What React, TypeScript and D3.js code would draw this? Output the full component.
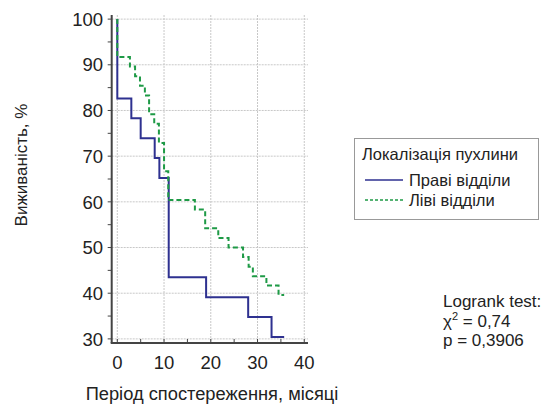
import React, { useEffect, useRef } from 'react';
import * as d3 from 'd3';

// Праві відділи: момент зміни (міс.) та виживаність після неї (%)
const rightTimes = [0, 0, 3, 5, 8, 9, 11, 19, 28, 33, 35.7];
const rightSurv = [100, 82.6, 78.3, 73.9, 69.6, 65.2, 43.5, 39.1, 34.8, 30.4, 30.4];

// Ліві відділи
const leftTimes = [0, 0, 2.7, 3.8, 4.85, 5.9, 6.8, 7.9, 8.9, 10, 10.9, 16.6, 18.8, 21.6, 23.8, 26.9, 28.1, 29, 31.9, 34.5, 35.7];
const leftSurv = [100, 91.7, 89.6, 87.5, 85.4, 83.3, 79.2, 77.1, 72.9, 66.7, 60.4, 58.3, 54.2, 52.1, 50.0, 47.9, 45.8, 43.7, 41.7, 39.6, 39.6];

const xTicks = [0, 10, 20, 30, 40];
const yTicks = [30, 40, 50, 60, 70, 80, 90, 100];
const xMinor = [5, 15, 25, 35];
const yMinor = [35, 45, 55, 65, 75, 85, 95];

const legendTitle = 'Локалізація пухлини';
const seriesNames = ['Праві відділи', 'Ліві відділи'];

const BLUE = '#2e3190';
const GREEN = '#1e9a46';
const FONT = '"Liberation Sans", Arial, sans-serif';

export default function App() {
  const svgRef = useRef<SVGSVGElement>(null);

  useEffect(() => {
    document.body.style.margin = '0';
    const svg = d3.select(svgRef.current);
    svg.selectAll('*').remove();

    const x = d3.scaleLinear().domain([-1.2, 40.8]).range([111.7, 308]);
    const y = d3.scaleLinear().domain([29.1, 100.9]).range([343, 15]);

    const g = svg.append('g').attr('font-family', FONT);

    // сітка
    g.selectAll('.hgrid').data(yTicks).enter().append('line')
      .attr('x1', x(-1.2)).attr('x2', x(40.8))
      .attr('y1', d => y(d)).attr('y2', d => y(d))
      .attr('stroke', '#c8c8c8').attr('stroke-dasharray', '2,1');
    g.selectAll('.vgrid').data(xTicks).enter().append('line')
      .attr('x1', d => x(d)).attr('x2', d => x(d))
      .attr('y1', y(100.9)).attr('y2', y(29.1))
      .attr('stroke', '#c8c8c8').attr('stroke-dasharray', '2,1');

    // осі
    g.append('line').attr('x1', x(-1.2)).attr('x2', x(-1.2)).attr('y1', y(100.9)).attr('y2', y(29.1))
      .attr('stroke', '#444').attr('stroke-width', 2);
    g.append('line').attr('x1', x(-1.2) - 1).attr('x2', x(40.8)).attr('y1', y(29.1)).attr('y2', y(29.1))
      .attr('stroke', '#444').attr('stroke-width', 2);

    // поділки
    g.selectAll('.yt').data([...yTicks, ...yMinor]).enter().append('line')
      .attr('x1', x(-1.2) - 4).attr('x2', x(-1.2))
      .attr('y1', d => y(d)).attr('y2', d => y(d))
      .attr('stroke', '#444');
    g.selectAll('.xt').data([...xTicks, ...xMinor]).enter().append('line')
      .attr('x1', d => x(d)).attr('x2', d => x(d))
      .attr('y1', y(29.1)).attr('y2', y(29.1) - 4)
      .attr('stroke', '#444');

    g.selectAll('.yl').data(yTicks).enter().append('text')
      .attr('x', 103).attr('y', d => y(d)).attr('dy', '0.36em')
      .attr('text-anchor', 'end').attr('font-size', 18.5).attr('fill', '#222')
      .text(d => d);
    g.selectAll('.xl').data(xTicks).enter().append('text')
      .attr('x', d => x(d)).attr('y', 369)
      .attr('text-anchor', 'middle').attr('font-size', 18.5).attr('fill', '#222')
      .text(d => d);

    // криві
    const line = d3.line<[number, number]>()
      .x(d => x(d[0])).y(d => y(d[1]))
      .curve(d3.curveStepAfter);
    const rightPts = rightTimes.map((t, i) => [t, rightSurv[i]] as [number, number]);
    const leftPts = leftTimes.map((t, i) => [t, leftSurv[i]] as [number, number]);

    g.append('path').attr('d', line(rightPts)).attr('fill', 'none')
      .attr('stroke', BLUE).attr('stroke-width', 2);
    g.append('path').attr('d', line(leftPts)).attr('fill', 'none')
      .attr('stroke', GREEN).attr('stroke-width', 2).attr('stroke-dasharray', '5,3');

    // підписи осей
    g.append('text').attr('x', 212).attr('y', 400).attr('text-anchor', 'middle')
      .attr('font-size', 18.3).attr('fill', '#222')
      .text('Період спостереження, місяці');
    g.append('text').attr('transform', 'translate(27,165) rotate(-90)')
      .attr('text-anchor', 'middle').attr('font-size', 17).attr('fill', '#222')
      .text('Виживаність, %');

    // легенда
    const lg = g.append('g');
    lg.append('rect').attr('x', 354.5).attr('y', 138.5).attr('width', 184).attr('height', 81)
      .attr('fill', '#fff').attr('stroke', '#999');
    lg.append('text').attr('x', 362).attr('y', 160).attr('font-size', 16.5).attr('fill', '#222')
      .text(legendTitle);
    const styles = [
      { color: BLUE, dash: null },
      { color: GREEN, dash: '3,2' },
    ];
    seriesNames.forEach((name, i) => {
      const yy = 180 + i * 20;
      lg.append('line').attr('x1', 365).attr('x2', 403).attr('y1', yy).attr('y2', yy)
        .attr('stroke', styles[i].color).attr('stroke-width', 1.5)
        .attr('stroke-dasharray', styles[i].dash);
      lg.append('text').attr('x', 409).attr('y', yy + 6).attr('font-size', 16.5).attr('fill', '#222')
        .text(name);
    });

    // logrank
    const lr = g.append('text').attr('font-size', 17).attr('fill', '#222');
    lr.append('tspan').attr('x', 443).attr('y', 307).text('Logrank test:');
    const l2 = lr.append('tspan').attr('x', 443).attr('y', 327);
    l2.append('tspan').text('χ');
    l2.append('tspan').attr('font-size', 11).attr('dy', -7).text('2');
    l2.append('tspan').attr('dy', 7).text(' = 0,74');
    lr.append('tspan').attr('x', 443).attr('y', 346).text('p = 0,3906');
  }, []);

  return <svg ref={svgRef} width={549} height={406} style={{ display: 'block', background: '#fff' }} />;
}
